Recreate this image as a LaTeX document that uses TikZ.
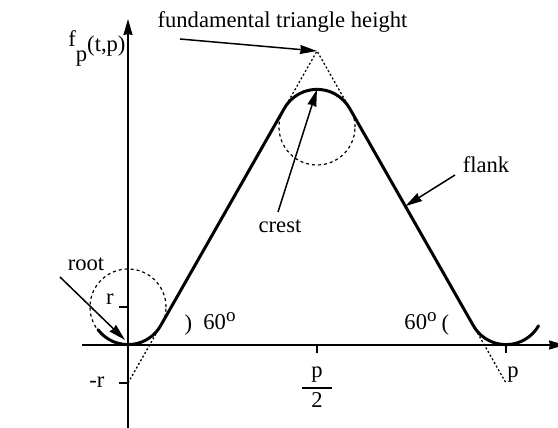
\documentclass[tikz,border=0pt]{standalone}
\usepackage{fontspec}
\setmainfont{Liberation Serif}
\usetikzlibrary{arrows.meta,calc}
\newcommand{\dego}{\raisebox{4pt}{\fontsize{9.5}{10}\selectfont o}}
\begin{document}
\begin{tikzpicture}[x=0.5pt,y=0.5pt,
  lbl/.style={font=\fontsize{11.3}{13}\selectfont, inner sep=0pt},
  axis/.style={line width=0.9pt},
  profile/.style={line width=1.5pt, line cap=round, line join=round},
  circ/.style={line width=0.6pt, dash pattern=on 1.5pt off 1.5pt},
  tri/.style={line width=0.65pt, dash pattern=on 1pt off 1.1pt},
  pointer/.style={line width=0.75pt, -{Stealth[length=8.5pt,width=4.5pt,inset=0.5pt]}},
  axarrow/.style={axis, -{Stealth[length=8pt,width=4.5pt,inset=0.5pt]}},
  tickmark/.style={line width=0.75pt}]
\useasboundingbox (-128,-83) rectangle (430,345);
\def\rr{37.6}
% key points
\coordinate (O) at (0,0);
\coordinate (rootC) at (0,38);
\coordinate (crestC) at (189,218);
\coordinate (rootRC) at (378,38);
\coordinate (apex) at (189,294);
\coordinate (vL) at (0,-38);
\coordinate (vR) at (378,-38);
\coordinate (tL) at ($(rootC)+(-29.65:\rr)$);
\coordinate (cL) at ($(crestC)+(150.35:\rr)$);
\coordinate (cR) at ($(crestC)+(29.65:\rr)$);
\coordinate (tR) at ($(rootRC)+(209.65:\rr)$);
\coordinate (crestTop) at ($(crestC)+(0,\rr)$);
% axes
\coordinate (xs) at (-46,0);
\coordinate (xe) at (437,0);
\coordinate (ys) at (0,-83);
\coordinate (ye) at (0,326);
\draw[axarrow] (xs) -- (xe);
\draw[axarrow] (ys) -- (ye);
% ticks
\draw[tickmark] (-9,38) -- (0,38);
\draw[tickmark] (-9,-38) -- (0,-38);
\draw[tickmark] (189,0) -- (189,-8);
\draw[tickmark] (378,0) -- (378,-8);
% construction circles and triangle
\draw[circ] (rootC) circle[radius=38];
\draw[circ] (crestC) circle[radius=38];
\draw[tri] (vL) -- (tL);
\draw[tri] (cL) -- (apex) -- (cR);
\draw[tri] (tR) -- (vR);
% profile
\draw[profile] ($(rootC)+(217:\rr)$) arc[start angle=217,end angle=330.35,radius=\rr]
  -- (cL) arc[start angle=150.35,end angle=29.65,radius=\rr]
  -- (tR) arc[start angle=209.65,end angle=330,radius=\rr];
% labels
\node[lbl,anchor=base west] (fp) at (-60,298) {f\raisebox{-7.5pt}{p}\raisebox{-2.5pt}{(t,p)}};
\node[lbl,anchor=base] (fund) at (154.5,317) {fundamental triangle height};
\coordinate (fundS) at (52,306);
\draw[pointer] (fundS) -- (apex);
\node[lbl,anchor=base] (crest) at (152,112) {crest};
\coordinate (crestS) at (150,133);
\draw[pointer] (crestS) -- (crestTop);
\node[lbl,anchor=base] (flank) at (358,172) {flank};
\coordinate (flankS) at (327,170);
\coordinate (flankP) at ($(cR)!0.45!(tR)$);
\draw[pointer] (flankS) -- (flankP);
\node[lbl,anchor=base] (root) at (-42,74) {root};
\coordinate (rootS) at (-68,68);
\coordinate (rootP) at (-3,5);
\draw[pointer] (rootS) -- (rootP);
\node[lbl,anchor=base] (rl) at (-18,40) {r};
\node[lbl,anchor=base] (mrl) at (-31,-43) {-r};
\node[lbl,anchor=base] (ph) at (189,-33) {p};
\draw[tickmark] (174,-43) -- (204,-43);
\node[lbl,anchor=base] (two) at (189,-63) {2};
\node[lbl,anchor=base] (pl) at (385,-33) {p};
\node[lbl,anchor=base] (aL) at (60.5,14) {)};
\node[lbl,anchor=base west] (sL) at (75,15) {60\dego};
\node[lbl,anchor=base] (aR) at (317.5,14) {(};
\node[lbl,anchor=base east] (sR) at (309,15) {60\dego};
\end{tikzpicture}
\end{document}
